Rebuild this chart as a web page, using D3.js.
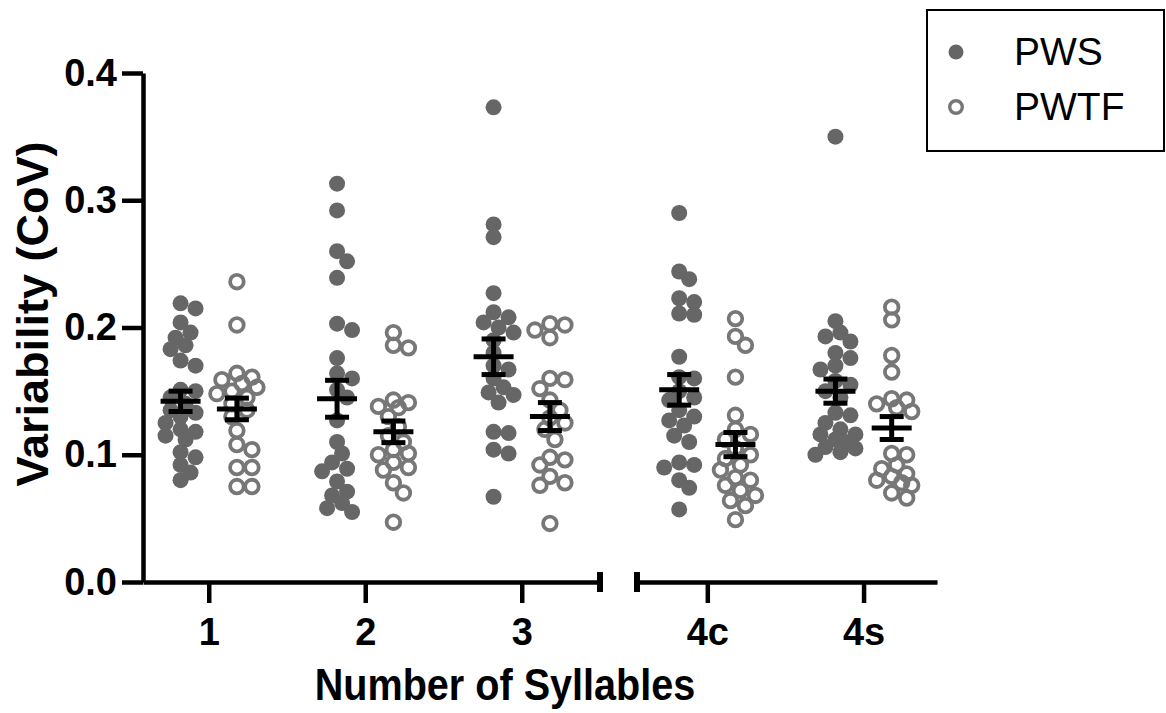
<!DOCTYPE html>
<html>
<head>
<meta charset="utf-8">
<script src="https://cdn.jsdelivr.net/npm/d3@7"></script>
<style>
  body { margin: 0; background: #fff; }
  text { font-family: "Liberation Sans", Arial, sans-serif; }
</style>
</head>
<body>
<div id="plot"></div>
<script>
const width = 1166;
const height = 713;

// Data
const categories = ["1", "2", "3", "4c", "4s"];
const seriesNames = ["PWS", "PWTF"];
const yTicks = [0, 0.1, 0.2, 0.3, 0.4];

const pws = [
  [0.219, 0.215, 0.204, 0.196, 0.192, 0.186, 0.183, 0.174, 0.170, 0.151, 0.150, 0.145, 0.140,
   0.135, 0.133, 0.130, 0.125, 0.120, 0.118, 0.115, 0.112, 0.102, 0.098, 0.092, 0.086, 0.080],
  [0.313, 0.292, 0.260, 0.252, 0.239, 0.203, 0.198, 0.176, 0.164, 0.160, 0.151, 0.145, 0.127,
   0.110, 0.101, 0.094, 0.089, 0.087, 0.079, 0.071, 0.068, 0.062, 0.058, 0.055],
  [0.373, 0.281, 0.271, 0.227, 0.212, 0.208, 0.204, 0.200, 0.196, 0.190, 0.180, 0.170, 0.167,
   0.160, 0.153, 0.149, 0.147, 0.141, 0.118, 0.117, 0.104, 0.101, 0.067],
  [0.290, 0.244, 0.238, 0.223, 0.220, 0.211, 0.210, 0.177, 0.161, 0.160, 0.150, 0.145, 0.143,
   0.135, 0.130, 0.127, 0.123, 0.115, 0.110, 0.094, 0.092, 0.090, 0.080, 0.074, 0.057],
  [0.350, 0.205, 0.196, 0.193, 0.189, 0.180, 0.176, 0.170, 0.167, 0.158, 0.155, 0.150, 0.145,
   0.133, 0.131, 0.125, 0.120, 0.116, 0.116, 0.112, 0.110, 0.106, 0.105, 0.102, 0.100]
];

const pwtf = [
  [0.236, 0.202, 0.164, 0.161, 0.159, 0.156, 0.153, 0.150, 0.148, 0.145, 0.140, 0.135, 0.130,
   0.119, 0.108, 0.104, 0.090, 0.090, 0.075, 0.075],
  [0.196, 0.186, 0.184, 0.143, 0.141, 0.138, 0.137, 0.130, 0.122, 0.115, 0.110, 0.104, 0.101,
   0.100, 0.094, 0.090, 0.088, 0.078, 0.070, 0.047],
  [0.203, 0.202, 0.198, 0.192, 0.160, 0.159, 0.152, 0.143, 0.135, 0.129, 0.125, 0.120, 0.112,
   0.098, 0.096, 0.092, 0.083, 0.078, 0.076, 0.046],
  [0.207, 0.193, 0.186, 0.161, 0.131, 0.120, 0.116, 0.112, 0.105, 0.100, 0.097, 0.092, 0.088,
   0.082, 0.080, 0.076, 0.072, 0.068, 0.064, 0.060, 0.049],
  [0.216, 0.206, 0.178, 0.165, 0.144, 0.143, 0.140, 0.137, 0.134, 0.101, 0.100, 0.092, 0.089,
   0.085, 0.083, 0.080, 0.078, 0.076, 0.070, 0.066]
];

const pwsMean = [0.142, 0.144, 0.177, 0.151, 0.150];
const pwsSem = [0.008, 0.0145, 0.014, 0.012, 0.0095];
const pwtfMean = [0.136, 0.118, 0.130, 0.108, 0.121];
const pwtfSem = [0.0085, 0.0085, 0.011, 0.0095, 0.009];

const svg = d3.select("#plot")
  .append("svg")
  .attr("width", width)
  .attr("height", height);

// Scales (x axis is split in two segments)
const y = d3.scaleLinear().domain([0, 0.4]).range([582, 73]);
const xLeft = d3.scaleLinear().domain([0.58, 3.5]).range([143, 600]);
const xRight = d3.scaleLinear().domain([3.55, 5.47]).range([637, 937]);
const xPos = v => v < 3.52 ? xLeft(v) : xRight(v);

const seriesOffset = 0.18;
const axisWidth = 4.5;

// Points placed with a simple deterministic dodge
function dodge(values, cx) {
  const placed = [];
  const sorted = values.slice().sort((a, b) => b - a);
  const steps = [0, 5, -5, 10, -10, 15, -15, 20, -20];
  sorted.forEach(v => {
    const py = y(v);
    let best = null, bestDist = -1;
    for (const s of steps) {
      const px = cx + s;
      let minD = Infinity;
      placed.forEach(p => { minD = Math.min(minD, Math.hypot(p.x - px, p.y - py)); });
      if (minD >= 12) { best = px; bestDist = minD; break; }
      if (minD > bestDist) { bestDist = minD; best = px; }
    }
    placed.push({x: best, y: py, v: v});
  });
  return placed;
}

const pointsG = svg.append("g");

categories.forEach((c, i) => {
  const pwsPts = dodge(pws[i], xPos(i + 1 - seriesOffset));
  const pwtfPts = dodge(pwtf[i], xPos(i + 1 + seriesOffset));

  pointsG.selectAll(null)
    .data(pwsPts)
    .enter()
    .append("circle")
    .attr("cx", d => d.x)
    .attr("cy", d => d.y)
    .attr("r", 8)
    .attr("fill", "#666666");

  pointsG.selectAll(null)
    .data(pwtfPts)
    .enter()
    .append("circle")
    .attr("cx", d => d.x)
    .attr("cy", d => d.y)
    .attr("r", 6.8)
    .attr("fill", "none")
    .attr("stroke", "#777777")
    .attr("stroke-width", 3.8);
});

// Mean and SEM bars
const stats = [];
categories.forEach((c, i) => {
  stats.push({pos: i + 1 - seriesOffset, mean: pwsMean[i], sem: pwsSem[i]});
  stats.push({pos: i + 1 + seriesOffset, mean: pwtfMean[i], sem: pwtfSem[i]});
});

const statG = svg.append("g")
  .attr("stroke", "#000")
  .attr("stroke-width", 5);

stats.forEach(d => {
  const cx = xPos(d.pos);
  statG.append("line")
    .attr("x1", cx - 20).attr("x2", cx + 20)
    .attr("y1", y(d.mean)).attr("y2", y(d.mean));
  statG.append("line")
    .attr("x1", cx).attr("x2", cx)
    .attr("y1", y(d.mean + d.sem)).attr("y2", y(d.mean - d.sem));
  [d.mean + d.sem, d.mean - d.sem].forEach(v => {
    statG.append("line")
      .attr("x1", cx - 12).attr("x2", cx + 12)
      .attr("y1", y(v)).attr("y2", y(v));
  });
});

// Axes
function styleAxis(g) {
  g.select(".domain").attr("stroke-width", axisWidth).attr("stroke", "#000");
  g.selectAll(".tick line").attr("stroke-width", axisWidth).attr("stroke", "#000");
  g.selectAll(".tick text")
    .attr("font-size", 38)
    .attr("font-weight", "bold")
    .attr("fill", "#000")
    .attr("font-family", "'Liberation Sans', Arial, sans-serif");
}

const yAxis = d3.axisLeft(y)
  .tickValues(yTicks)
  .tickFormat(d3.format(".1f"))
  .tickSize(21)
  .tickSizeOuter(0)
  .tickPadding(5);

svg.append("g")
  .attr("transform", `translate(143,0)`)
  .call(yAxis)
  .call(styleAxis);

const xAxisLeft = d3.axisBottom(xLeft)
  .tickValues([1, 2, 3])
  .tickFormat(d => categories[d - 1])
  .tickSize(21)
  .tickSizeOuter(0)
  .tickPadding(15);

const xAxisRight = d3.axisBottom(xRight)
  .tickValues([4, 5])
  .tickFormat(d => categories[d - 1])
  .tickSize(21)
  .tickSizeOuter(0)
  .tickPadding(15);

svg.append("g")
  .attr("transform", `translate(0,582)`)
  .call(xAxisLeft)
  .call(styleAxis);

svg.append("g")
  .attr("transform", `translate(0,582)`)
  .call(xAxisRight)
  .call(styleAxis);

// Break caps on the split axis
[xLeft(3.5), xRight(3.55)].forEach(px => {
  svg.append("line")
    .attr("x1", px).attr("x2", px)
    .attr("y1", 572).attr("y2", 592)
    .attr("stroke", "#000")
    .attr("stroke-width", 6);
});

// Axis titles
svg.append("text")
  .attr("transform", "translate(505,700) scale(0.9,1)")
  .attr("text-anchor", "middle")
  .attr("font-size", 44)
  .attr("font-weight", "bold")
  .text("Number of Syllables");

svg.append("text")
  .attr("transform", "translate(48,314) rotate(-90)")
  .attr("text-anchor", "middle")
  .attr("font-size", 45)
  .attr("font-weight", "bold")
  .text("Variability (CoV)");

// Legend
const legend = svg.append("g");
legend.append("rect")
  .attr("x", 927).attr("y", 10)
  .attr("width", 237).attr("height", 141)
  .attr("fill", "#fff")
  .attr("stroke", "#000")
  .attr("stroke-width", 2);

seriesNames.forEach((name, i) => {
  const ly = 52 + i * 55;
  if (i === 0) {
    legend.append("circle").attr("cx", 956).attr("cy", ly).attr("r", 7.5).attr("fill", "#666666");
  } else {
    legend.append("circle").attr("cx", 956).attr("cy", ly).attr("r", 6.3)
      .attr("fill", "none").attr("stroke", "#777777").attr("stroke-width", 3.4);
  }
  legend.append("text")
    .attr("x", 1014)
    .attr("y", ly + 13)
    .attr("font-size", 39)
    .attr("fill", "#000")
    .text(name);
});
</script>
</body>
</html>
